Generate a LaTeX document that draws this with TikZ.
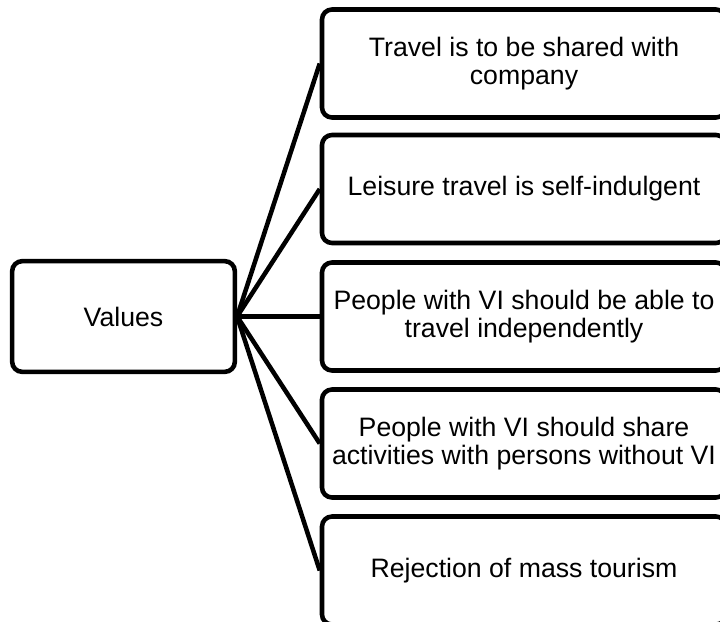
\documentclass[tikz,border=0pt]{standalone}
\usepackage{fontspec}
\setmainfont{Liberation Sans}
\usetikzlibrary{positioning}

\tikzset{
    valbox/.style={draw, line width=3.4pt, rounded corners=7.5pt, align=center,
        inner sep=0pt, font=\fontsize{20}{20.7}\selectfont},
    root/.style={valbox, minimum width=167pt, minimum height=83pt},
    item/.style={valbox, minimum width=303pt, minimum height=81pt},
    link/.style={line width=3.4pt}
}

\begin{document}
\begin{tikzpicture}[x=0.75pt, y=-0.75pt]

    % Page frame, boxes run off the right and bottom edge
    \clip (0,0) rectangle (720,621);

    % Root node
    \node[root] (values) at (123.5,316.5) {Values};

    % Value statements
    \node[item] (company) at (524,63.5) {Travel is to be shared with\\company};
    \node[item] (leisure) at (524,189) {Leisure travel is self-indulgent};
    \node[item] (independent) at (524,316.5) {People with VI should be able to\\travel independently};
    \node[item] (share) at (524,443.5) {People with VI should share\\activities with persons without VI};
    \node[item] (mass) at (524,570.5) {Rejection of mass tourism};

    % Fan out from the root
    \draw[link] (values.east) -- (company.west);
    \draw[link] (values.east) -- (leisure.west);
    \draw[link] (values.east) -- (independent.west);
    \draw[link] (values.east) -- (share.west);
    \draw[link] (values.east) -- (mass.west);
\end{tikzpicture}
\end{document}
